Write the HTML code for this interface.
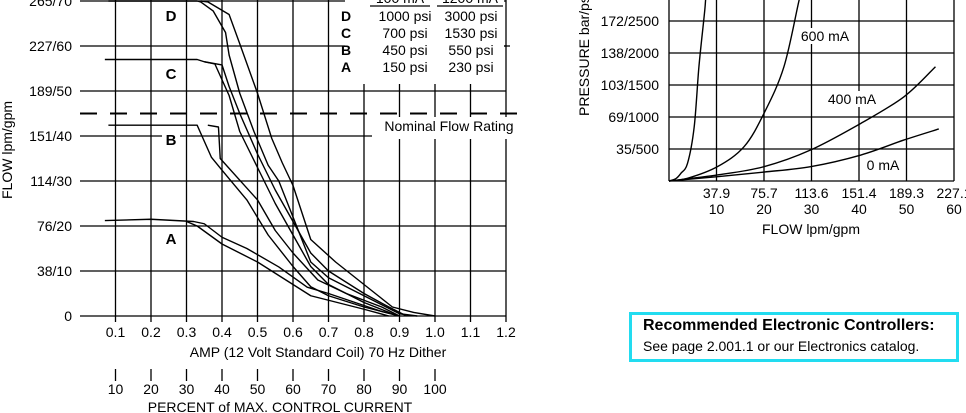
<!DOCTYPE html>
<html><head><meta charset="utf-8"><style>
html,body{margin:0;padding:0;background:#fff;width:966px;height:413px;overflow:hidden}
svg{position:absolute;left:0;top:0;font-family:"Liberation Sans",Arial,sans-serif}
#ctrl{position:absolute;left:629px;top:312px;width:324px;height:44px;border:3px solid #22dcf0;font-family:"Liberation Sans",Arial,sans-serif;color:#000}
#ctrl b{position:absolute;left:11px;top:2px;font-size:16px;white-space:nowrap}
#ctrl span{position:absolute;left:11px;top:23px;font-size:14px;white-space:nowrap}
</style></head><body>
<svg id="c" width="966" height="413"></svg>
<div id="ctrl"><b>Recommended Electronic Controllers:</b><span>See page 2.001.1 or our Electronics catalog.</span></div>
<script>
// Left chart data (amp vs gpm)
const ampTicks=[0.1,0.2,0.3,0.4,0.5,0.6,0.7,0.8,0.9,1.0,1.1,1.2];
const ampLabels=["0.1","0.2","0.3","0.4","0.5","0.6","0.7","0.8","0.9","1.0","1.1","1.2"];
const pctLabels=["10","20","30","40","50","60","70","80","90","100"];
const flowTicks=[0,10,20,30,40,50,60,70];
const flowLabels=["0","38/10","76/20","114/30","151/40","189/50","227/60","265/70"];
const nominalFlow=45;
const curveNames=["D1","D2","C1","C2","B1","B2","A1","A2"];
const curveAmp=[
[0.08,0.33,0.34,0.375,0.41,0.42,0.45,0.49,0.53,0.56,0.6,0.65,0.7,0.8,0.85,0.9,0.95],
[0.34,0.36,0.42,0.45,0.5,0.54,0.57,0.6,0.65,0.72,0.84,0.88,0.94,1.0],
[0.07,0.33,0.35,0.38,0.42,0.45,0.5,0.55,0.6,0.65,0.7,0.8,0.88,0.9],
[0.35,0.4,0.42,0.45,0.5,0.55,0.6,0.65,0.7,0.8,0.87,0.92],
[0.08,0.33,0.37,0.40,0.47,0.53,0.6,0.65,0.7,0.8,0.9],
[0.36,0.39,0.395,0.5,0.55,0.6,0.67,0.75,0.85,0.9],
[0.07,0.2,0.32,0.35,0.4,0.47,0.56,0.64,0.7,0.85,0.9],
[0.3,0.33,0.4,0.5,0.6,0.65,0.8,0.87]];
const curveGpm=[
[70,70,69.8,67.8,63,58,49.5,41,33.5,30,22,12,8.5,4.5,2.5,0.5,0],
[70,69.8,67,60.5,49.5,39.5,34,29,17,12,4.5,2,0.8,0],
[57,57,56.5,56,49,41,33,25,18,11,7,3,0.5,0],
[56.5,55.8,51,45,36,28,21,14,10,5,2,0],
[42.4,42.4,35.3,32.4,25.8,18,11,6.5,4.5,2,0],
[42.4,42,35,25.8,19,14,8,5,2,0],
[21.2,21.5,21,20.5,17.5,15,10.9,6.4,5,1,0],
[21,20,16,12,7,4.5,1.5,0]];
const legendRows=["D","C","B","A"];
const legendLow=["1000 psi","700 psi","450 psi","150 psi"];
const legendHigh=["3000 psi","1530 psi","550 psi","230 psi"];
// Right chart data (gpm vs psi)
const rxTicks=[10,20,30,40,50,60];
const rxLpm=["37.9","75.7","113.6","151.4","189.3","227.1"];
const ryTicks=[500,1000,1500,2000,2500];
const ryLabels=["35/500","69/1000","103/1500","138/2000","172/2500"];
const pqNames=["0 mA","400 mA","600 mA","max"];
const pqGpm=[[0,10.2,20,29.8,40.4,49.5,56.8],[0,10.2,20,29.8,40.4,49.5,56.1],[0,3.9,10.2,15.8,20,24.2,27.4,29],[0,1.5,2.5,3.9,5.3,6.3,7.4,7.7,8]];
const pqPsi=[[0,68,140,224,406,641,813],[0,94,224,484,901,1318,1786],[0,42,224,536,1057,1786,2828,3300],[0,40,120,276,843,1786,2573,2828,3300]];

const svg=document.getElementById('c');const NS="http://www.w3.org/2000/svg";
function mk(t,a,p){const e=document.createElementNS(NS,t);for(const k in a)e.setAttribute(k,a[k]);(p||svg).appendChild(e);return e;}
function txt(x,y,s,size,anchor,p,w){const e=mk('text',{x:x,y:y,'font-size':size,'text-anchor':anchor||'middle','font-weight':w||'normal',fill:'#000'},p);e.textContent=s;return e;}
function smooth(pts){let d='M'+pts[0][0]+','+pts[0][1];for(let i=0;i<pts.length-1;i++){const p0=pts[i-1]||pts[i],p1=pts[i],p2=pts[i+1],p3=pts[i+2]||p2;
d+=' C'+(p1[0]+(p2[0]-p0[0])/6)+','+(p1[1]+(p2[1]-p0[1])/6)+' '+(p2[0]-(p3[0]-p1[0])/6)+','+(p2[1]-(p3[1]-p1[1])/6)+' '+p2[0]+','+p2[1];}return d;}
const X=a=>80+a*355, Y=g=>316-g*4.5;
const RX=g=>669+g*4.75, RY=p=>181-p*0.064;
const L='stroke:#000;stroke-width:1.3;fill:none';
const FS=14;
// left grid
const lg=mk('g',{});


ampTicks.forEach(a=>{mk('line',{x1:X(a),x2:X(a),y1:0,y2:322,style:L},lg);});
flowTicks.forEach(g=>{mk('line',{x1:80,x2:X(1.2),y1:Y(g),y2:Y(g),style:L},lg);});
mk('rect',{x:345,y:0,width:159,height:84,fill:'#fff'});
mk('line',{x1:504,x2:510,y1:Y(60),y2:Y(60),style:L});
const lgd=mk('g',{});


txt(400,3,"100 mA",FS,'middle',lgd);txt(470,3,"1200 mA",FS,'middle',lgd);
mk('line',{x1:370,x2:430,y1:6,y2:6,style:L},lgd);mk('line',{x1:437,x2:503,y1:6,y2:6,style:L},lgd);
legendRows.forEach((r,i)=>{const y=21+i*17;txt(346,y,r,FS,'middle',lgd,'bold');txt(405,y,legendLow[i],FS,'middle',lgd);txt(471,y,legendHigh[i],FS,'middle',lgd);});
mk('rect',{x:372,y:117,width:140,height:22,fill:'#fff'});
const nm=mk('line',{x1:80,x2:522,y1:Y(nominalFlow),y2:Y(nominalFlow),stroke:'#000','stroke-width':2,'stroke-dasharray':'17 13'});


txt(449,131,"Nominal Flow Rating",FS,'middle');
[["D",171,21],["C",171,79],["B",171,145],["A",171,244]].forEach(d=>{mk('rect',{x:d[1]-9,y:d[2]-14,width:18,height:18,fill:'#fff'});txt(d[1],d[2],d[0],15,'middle',svg,'bold');});
curveNames.forEach((n,i)=>{const p=mk('polyline',{points:curveAmp[i].map((a,j)=>X(a)+','+Y(curveGpm[i][j])).join(' '),style:'stroke:#000;stroke-width:1.4;fill:none;stroke-linejoin:round'});

});
flowLabels.forEach((s,i)=>txt(72,Y(flowTicks[i])+5,s,FS,'end'));
ampLabels.forEach((s,i)=>txt(X(ampTicks[i]),337,s,FS));
txt(318,357,"AMP (12 Volt Standard Coil) 70 Hz Dither",FS);
pctLabels.forEach((s,i)=>{mk('line',{x1:X(ampTicks[i]),x2:X(ampTicks[i]),y1:369,y2:381,style:L});txt(X(ampTicks[i]),394,s,FS);});
txt(280,412,"PERCENT of MAX. CONTROL CURRENT",FS);
const yt=txt(0,0,"FLOW lpm/gpm",FS,'middle');yt.setAttribute('transform','translate(12,150) rotate(-90)');

// right chart
const rg=mk('g',{});


rxTicks.forEach(g=>mk('line',{x1:RX(g),x2:RX(g),y1:0,y2:181,style:L},rg));
ryTicks.forEach(p=>mk('line',{x1:669,x2:RX(60),y1:RY(p),y2:RY(p),style:L},rg));
mk('line',{x1:669,x2:669,y1:0,y2:181,style:L},rg);mk('line',{x1:669,x2:RX(60),y1:181,y2:181,style:L},rg);
ryLabels.forEach((s,i)=>txt(659,RY(ryTicks[i])+5,s,FS,'end'));
rxTicks.forEach((g,i)=>{txt(RX(g),198,rxLpm[i],FS);txt(RX(g),214,String(g),FS);});
txt(811,234,"FLOW lpm/gpm",FS);
const ry=txt(0,0,"PRESSURE bar/psi",FS,'start');ry.setAttribute('transform','translate(589,116) rotate(-90)');

const cp=mk('clipPath',{id:'rc'});mk('rect',{x:660,y:0,width:300,height:182},cp);
pqNames.forEach((n,i)=>{const pts=pqGpm[i].map((g,j)=>[RX(g),RY(pqPsi[i][j])]);const p=mk('path',{'clip-path':'url(#rc)',d:smooth(pts),style:'stroke:#000;stroke-width:1.4;fill:none'});

});
[["600 mA",825,41],["400 mA",852,104],["0 mA",883,170]].forEach(d=>{const w=d[0].length*8;mk('rect',{x:d[1]-w/2,y:d[2]-13,width:w,height:16,fill:'#fff'});txt(d[1],d[2],d[0],FS);});
</script>
</body></html>
